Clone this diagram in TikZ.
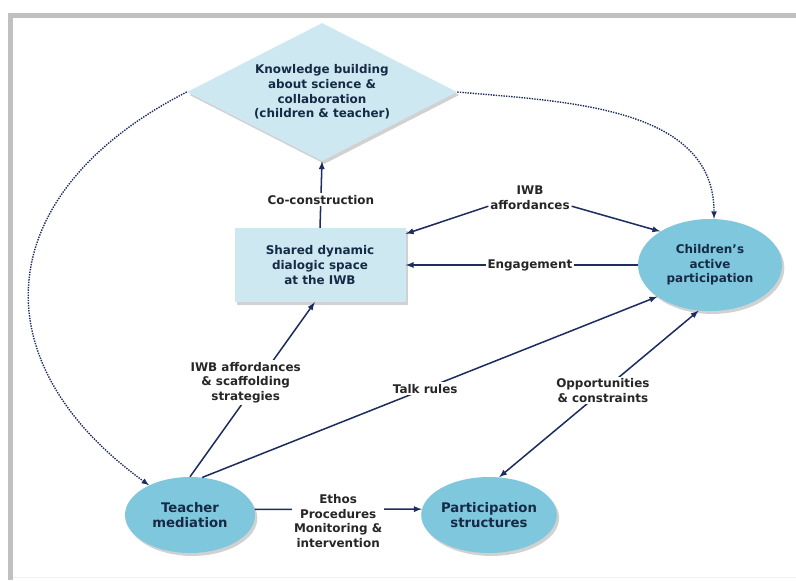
\documentclass[tikz,border=0pt]{standalone}
\usepackage{fontspec}
\setmainfont{DejaVu Sans}
\usepackage{tikz}
\usetikzlibrary{shapes.geometric,shadows,positioning}
\definecolor{boxblue}{RGB}{206,232,241}
\definecolor{blobblue}{RGB}{126,199,221}
\definecolor{linkblue}{RGB}{30,45,95}
\definecolor{nodetext}{RGB}{22,42,70}
\definecolor{framegray}{RGB}{192,192,192}

\begin{document}
\begin{tikzpicture}[x=0.03cm,y=-0.03cm,
	every node/.style={font=\fontsize{10.2}{12.5}\selectfont\bfseries,align=center},
	softshadow/.style={drop shadow={shadow xshift=2pt,shadow yshift=-2.5pt,opacity=0.3,fill=black!60}},
	knowbox/.style={diamond,shape aspect=1.96,fill=boxblue,text=nodetext,inner sep=0pt,minimum width=8.1cm,minimum height=4.14cm,softshadow},
	spacebox/.style={rectangle,fill=boxblue,text=nodetext,inner sep=0pt,minimum width=5.13cm,minimum height=2.22cm,softshadow},
	partblob/.style={ellipse,fill=blobblue,text=nodetext,inner sep=0pt,softshadow},
	bigtext/.style={font=\fontsize{11.3}{12.5}\selectfont\bfseries},
	linklabel/.style={fill=white,text=black!85,inner sep=1.5pt},
	link/.style={linkblue,line width=1.3pt,-latex},
	hint/.style={linkblue,line width=1.2pt,densely dotted,-latex}]
	\useasboundingbox (0,0) rectangle (796,580);
	% frame
	\fill[framegray] (8,13) rectangle (796,18);
	\fill[framegray] (8,13) rectangle (13,580);
	\draw[black!6] (13,577) -- (796,577);
	% nodes
	\node[knowbox] (know) at (322,92) {Knowledge building\\about science \&\\collaboration\\(children \& teacher)};
	\node[spacebox] (space) at (320,265) {Shared dynamic\\dialogic space\\at the IWB};
	\node[partblob,minimum width=4.32cm,minimum height=2.76cm] (child) at (710,265) {Children’s\\active\\participation};
	\node[partblob,bigtext,minimum width=3.9cm,minimum height=2.28cm] (teach) at (190,515) {Teacher\\mediation};
	\node[partblob,bigtext,minimum width=3.96cm,minimum height=2.28cm] (struct) at (489,515) {Participation\\structures};
	% links
	\draw[link] (space.north) -- node[linklabel,pos=0.42] {Co-construction} (know.south);
	\node[linklabel] (aff) at (530,198) {IWB\\affordances};
	\draw[link] ([yshift=-7pt]aff.west) -- (space.20);
	\draw[link] ([yshift=-7pt]aff.east) -- (child.146);
	\draw[link] (child.west) -- node[linklabel,pos=0.465] {Engagement} (space.east);
	\draw[link] (teach.north) -- node[linklabel,pos=0.54,xshift=-10pt] {IWB affordances\\\& scaffolding\\strategies} (space.262);
	\draw[link] (teach.72) -- node[linklabel,pos=0.49] {Talk rules} (child.211);
	\draw[link,latex-latex] (struct.75) -- node[linklabel,pos=0.52] {Opportunities\\\& constraints} (child.256);
	\draw[link] (teach.5) -- node[linklabel,midway,yshift=-10pt] {Ethos\\Procedures\\Monitoring \&\\intervention} (struct.175);
	% dotted
	\draw[hint] (know.west) to[out=207,in=144,looseness=1.4] (teach.144);
	\draw[hint] (know.east) to[out=-5,in=90] (child.85);
\end{tikzpicture}
\end{document}
